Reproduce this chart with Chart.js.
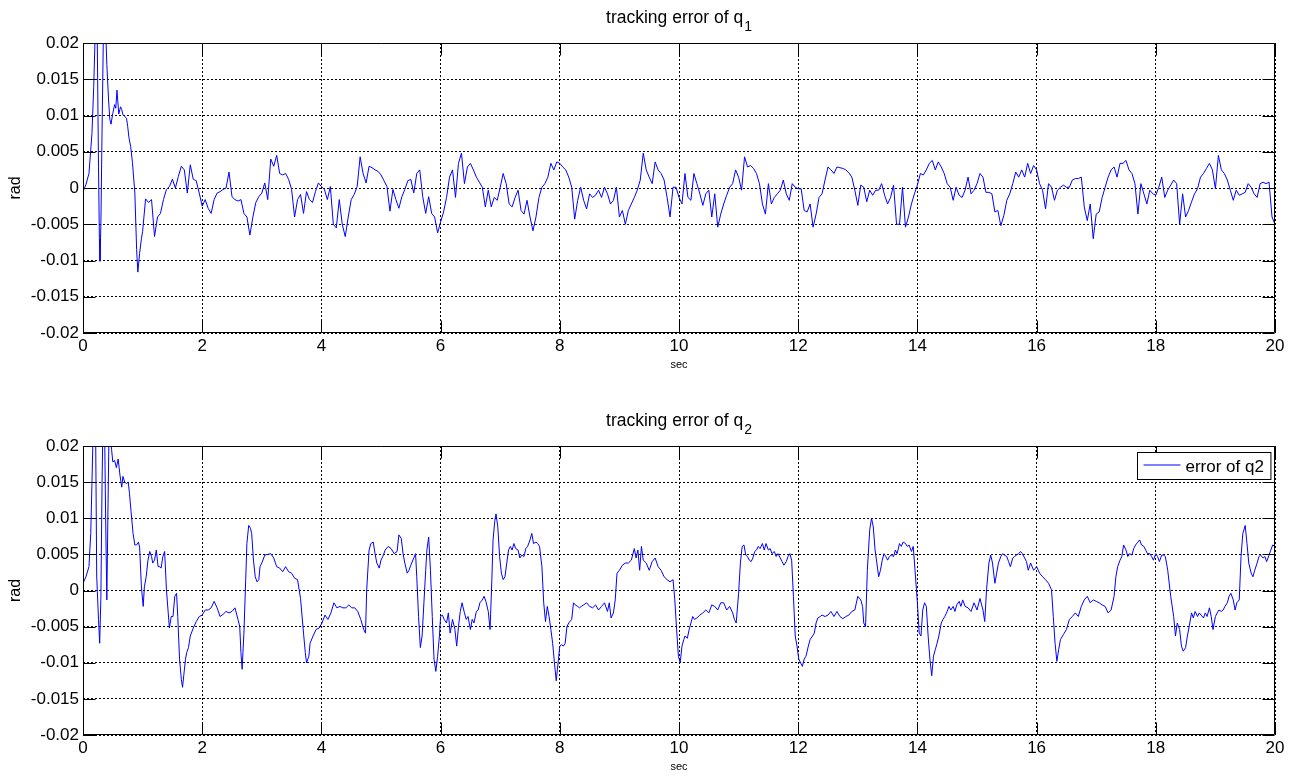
<!DOCTYPE html>
<html>
<head>
<meta charset="utf-8">
<title>tracking error</title>
<script src="https://cdn.jsdelivr.net/npm/chart.js@4.4.0/dist/chart.umd.min.js"></script>
<style>
  html, body { margin: 0; padding: 0; background: #fff; }
  #wrap { position: relative; width: 1301px; height: 776px; overflow: hidden; }
  canvas { position: absolute; left: 0; }
</style>
</head>
<body>
<div id="wrap">
  <canvas id="panelQ1" width="1301" height="390" style="top:0px"></canvas>
  <canvas id="panelQ2" width="1301" height="386" style="top:390px"></canvas>
</div>
<script>
// ---- axis ticks ----
const xTickValues = [0, 2, 4, 6, 8, 10, 12, 14, 16, 18, 20];
const xTickLabels = ['0', '2', '4', '6', '8', '10', '12', '14', '16', '18', '20'];
const yTickValues = [-0.02, -0.015, -0.01, -0.005, 0, 0.005, 0.01, 0.015, 0.02];
const yTickLabels = ['-0.02', '-0.015', '-0.01', '-0.005', '0', '0.005', '0.01', '0.015', '0.02'];

// ---- joint 1 error (rad) ----
// start-up transient, irregular sample times [t, e]
const q1Transient = [
  [0,-0.0005],[0.05,0.0005],[0.1,0.002],[0.15,0.0075],[0.18,0.014],[0.2,0.02],[0.22,0.026],
  [0.24,0.02],[0.26,0.003],[0.275,-0.007],[0.285,-0.0101],[0.3,-0.005],[0.32,0.008],[0.34,0.02],
  [0.36,0.026],[0.38,0.022],[0.4,0.017],[0.43,0.012],[0.45,0.0095],[0.47,0.0088],[0.5,0.0103],
  [0.53,0.0115],[0.55,0.011],[0.57,0.0135],[0.6,0.0102],[0.63,0.0112],[0.65,0.0108],[0.67,0.0101],
  [0.7,0.0099],[0.73,0.0096],[0.75,0.0085],[0.77,0.007],[0.8,0.0057],[0.83,0.0035],[0.87,-0.0007],
  [0.9,-0.0085],[0.92,-0.0116],[0.95,-0.009],[0.98,-0.007]
];
// logged every 0.05 s from t = 1.0 s (one row per second)
const q1LogStart = 1.0;
const q1LogStep = 0.05;
const q1Logged = [
  -0.006,-0.0015,-0.002,-0.0016,-0.0067,-0.004,-0.0035,-0.0016,-0.0002,0.0002,0.0012,0,0.0016,0.003,0.0025,-0.0007,0.0032,0.0012,0.001,-0.0007,
  -0.0025,-0.0016,-0.0028,-0.0035,-0.0016,-0.0007,-0.0005,-0.0002,0,0.0022,-0.0012,-0.0016,-0.0018,-0.0016,-0.0035,-0.004,-0.0065,-0.004,-0.002,-0.0012,
  -0.0007,0.0007,-0.0016,0.004,0.003,0.0045,0.002,0.0018,0.002,0.0012,-0.0002,-0.004,-0.0016,-0.0009,-0.0035,-0.0005,-0.0016,-0.002,-0.0005,0.0007,
  0.0002,-0.0002,-0.0016,0.0002,-0.005,-0.0055,-0.0016,-0.005,-0.0067,-0.004,-0.0016,-0.0009,0.0002,0.0043,0.002,0.0007,0.003,0.0028,0.0025,0.0023,
  0.0018,0.001,0.0002,-0.0032,-0.0002,-0.0016,-0.0028,-0.0012,-0.0002,0.001,0.0012,-0.0007,0.002,0.0025,-0.0012,-0.0035,-0.0012,-0.0035,-0.004,-0.0062,
  -0.0047,-0.0033,-0.0013,0.0015,0.0025,-0.0013,0.0034,0.0048,0.0006,0.0029,0.0034,0.0025,0.0015,0.0008,0.0001,-0.0026,-0.0003,-0.0026,-0.0013,-0.0017,
  0.0001,0.002,0.0006,-0.0022,-0.0026,-0.0013,-0.0003,-0.0031,-0.0036,-0.0017,-0.004,-0.0059,-0.004,-0.0013,0.0001,0.0006,0.0015,0.0034,0.0025,0.0036,
  0.0034,0.0029,0.0025,0.0015,0.0001,-0.0043,-0.0017,0.0001,-0.0017,-0.0029,-0.0008,-0.0013,-0.001,-0.0003,-0.0013,0.0001,-0.0008,-0.0022,-0.0017,0.0001,
  -0.004,-0.0031,-0.005,-0.0031,-0.0022,-0.0013,-0.0003,0.0011,0.0048,0.0025,0.0015,0.0006,0.0036,0.0025,0.002,0.0011,-0.0013,-0.004,0.0001,0.0001,
  -0.0013,-0.0022,0.002,-0.0013,-0.0017,0.002,0.0006,-0.0008,-0.0024,-0.0008,-0.0003,-0.004,-0.0008,-0.0054,-0.0036,-0.0022,-0.001,0.0001,0.0006,0.0025,
  0.0015,-0.0003,0.0043,0.0029,0.0031,0.0027,0.002,0.0006,-0.0022,-0.0036,0.0006,-0.0022,-0.0013,-0.0008,-0.0003,0.0011,-0.0008,-0.0017,0.0006,0.0001,
  -0.0001,-0.0001,-0.0031,-0.0033,-0.0022,-0.0054,-0.0036,-0.0013,-0.0008,0.0011,0.0029,0.0025,0.002,0.0029,0.0028,0.0027,0.0025,0.0021,0.0015,-0.0003,
  -0.0024,0.0004,0.0001,-0.0019,-0.0003,-0.001,-0.0003,-0.0003,0.0006,-0.001,-0.0022,-0.0013,0.0004,-0.005,-0.005,0.0001,-0.0054,-0.004,-0.0022,-0.0008,
  0.0004,0.002,0.0018,0.0025,0.0034,0.0038,0.0025,0.0036,0.0029,0.002,0.0006,0.0001,-0.0017,0.0001,-0.001,-0.0013,-0.0003,0.0015,-0.0008,-0.0003,
  0.0006,0.002,0.0015,-0.0006,-0.0006,-0.0008,-0.0033,-0.0031,-0.0052,-0.0038,-0.0017,-0.0008,0.0006,0.0022,0.0015,0.0025,0.0015,0.0034,0.002,0.0031,
  0.0025,0.0006,-0.0003,-0.0029,0.0006,0.0001,-0.0017,-0.0003,0.0001,0.0004,0.0001,0.0001,0.0011,0.0013,0.0013,0.0015,-0.0026,-0.0045,-0.0022,-0.007,
  -0.0036,-0.0033,-0.0013,0.0001,0.0015,0.0025,0.0029,0.0015,0.0034,0.0034,0.0038,0.0025,0.002,0.0006,-0.0036,0.0006,-0.0008,-0.0022,-0.0003,-0.0008,
  -0.001,0.0001,0.0015,-0.0013,-0.0003,0.0004,0.0011,0.0006,-0.005,-0.0008,-0.004,-0.0031,-0.0019,-0.0008,-0.0001,0.0015,0.002,0.0027,0.0034,0.0025,
  -0.0001,0.0045,0.0025,0.002,0.0011,-0.0003,-0.0017,-0.0003,-0.001,-0.0008,-0.0006,0.0006,0.0001,-0.0008,-0.0013,0.0006,0.0008,0.0006,0.0008,-0.004,
  -0.005
];

// ---- joint 2 error (rad), [t, e] ----
const q2Samples = [
  [0,0.001],[0.05,0.0019],[0.1,0.0033],[0.13,0.0079],[0.15,0.0148],[0.17,0.022],[0.19,0.026],[0.21,0.024],
  [0.23,0.002],[0.26,-0.004],[0.28,-0.0073],[0.3,-0.001],[0.32,0.015],[0.34,0.026],[0.36,0.024],[0.38,0.01],
  [0.4,-0.0013],[0.42,0.012],[0.44,0.024],[0.46,0.021],[0.48,0.0195],[0.5,0.0178],[0.53,0.018],[0.56,0.017],
  [0.59,0.0182],[0.62,0.016],[0.65,0.0143],[0.67,0.0158],[0.7,0.015],[0.73,0.0148],[0.76,0.015],[0.78,0.0134],
  [0.81,0.0106],[0.84,0.0079],[0.87,0.0063],[0.9,0.0063],[0.93,0.0067],[0.95,0.006],[0.98,0.0005],[1.01,-0.0022],
  [1.03,0.0005],[1.06,0.0019],[1.09,0.0042],[1.12,0.0054],[1.15,0.0047],[1.17,0.0038],[1.2,0.0042],[1.23,0.0056],
  [1.26,0.0033],[1.29,0.0033],[1.31,0.0031],[1.34,0.0047],[1.37,0.0054],[1.4,0.0001],[1.43,-0.0031],[1.45,-0.0052],
  [1.48,-0.0036],[1.51,-0.0036],[1.54,-0.0008],[1.57,-0.0004],[1.59,-0.0036],[1.62,-0.0095],[1.65,-0.0123],[1.67,-0.0134],
  [1.69,-0.0118],[1.72,-0.0095],[1.74,-0.0086],[1.77,-0.0079],[1.8,-0.0063],[1.85,-0.0052],[1.9,-0.0043],[1.95,-0.0036],
  [2.0,-0.0034],[2.05,-0.0027],[2.1,-0.0027],[2.15,-0.0024],[2.2,-0.0015],[2.25,-0.0024],[2.3,-0.0036],[2.35,-0.0033],
  [2.4,-0.0029],[2.45,-0.0031],[2.5,-0.0029],[2.55,-0.0024],[2.6,-0.004],[2.63,-0.005],[2.65,-0.0086],[2.67,-0.0109],
  [2.7,-0.0059],[2.73,0.0015],[2.75,0.0065],[2.78,0.009],[2.81,0.0086],[2.83,0.0079],[2.86,0.0042],[2.89,0.0019],
  [2.92,0.0012],[2.95,0.0015],[2.97,0.0033],[3.0,0.0038],[3.05,0.0049],[3.1,0.005],[3.15,0.0051],[3.2,0.0045],
  [3.25,0.0033],[3.3,0.0031],[3.35,0.0026],[3.4,0.0033],[3.45,0.0026],[3.5,0.0024],[3.55,0.0017],[3.6,0.0015],
  [3.65,-0.0011],[3.7,-0.0059],[3.73,-0.0086],[3.75,-0.01],[3.79,-0.0091],[3.81,-0.0073],[3.86,-0.0063],[3.91,-0.0054],
  [3.96,-0.0052],[4.01,-0.0045],[4.06,-0.0034],[4.11,-0.004],[4.16,-0.0031],[4.21,-0.0017],[4.26,-0.0024],[4.31,-0.0022],
  [4.36,-0.0024],[4.41,-0.0024],[4.46,-0.002],[4.51,-0.0024],[4.56,-0.0024],[4.61,-0.0029],[4.66,-0.004],[4.71,-0.0054],
  [4.74,-0.0059],[4.76,0.0001],[4.8,0.0056],[4.83,0.0065],[4.87,0.0067],[4.9,0.0051],[4.93,0.0038],[4.97,0.0031],
  [5.0,0.0042],[5.03,0.0047],[5.07,0.0056],[5.12,0.0061],[5.17,0.0058],[5.22,0.0051],[5.27,0.0054],[5.3,0.0077],
  [5.34,0.0072],[5.37,0.0051],[5.4,0.0038],[5.44,0.0024],[5.47,0.0028],[5.5,0.0035],[5.55,0.0045],[5.58,0.0051],
  [5.6,0.0019],[5.63,-0.0036],[5.66,-0.0079],[5.69,-0.0063],[5.72,-0.0017],[5.75,0.0028],[5.77,0.0056],[5.8,0.0074],
  [5.83,0.0028],[5.86,-0.0036],[5.89,-0.0095],[5.92,-0.0112],[5.95,-0.0091],[5.98,-0.0063],[6.0,-0.0036],[6.03,-0.0034],
  [6.06,-0.004],[6.1,-0.0045],[6.13,-0.0031],[6.16,-0.0059],[6.2,-0.004],[6.24,-0.0054],[6.27,-0.0077],[6.3,-0.005],
  [6.33,-0.0029],[6.36,-0.0017],[6.4,-0.0031],[6.43,-0.004],[6.46,-0.0036],[6.5,-0.0054],[6.53,-0.004],[6.56,-0.0045],
  [6.6,-0.0029],[6.63,-0.0027],[6.66,-0.0017],[6.7,-0.0013],[6.73,-0.0008],[6.76,-0.0015],[6.8,-0.0029],[6.83,-0.0054],
  [6.86,0.0015],[6.88,0.007],[6.91,0.0097],[6.93,0.0106],[6.96,0.0088],[6.99,0.0047],[7.02,0.0024],[7.05,0.0015],
  [7.08,0.0019],[7.11,0.0038],[7.14,0.0056],[7.17,0.0061],[7.2,0.0056],[7.23,0.0065],[7.26,0.0058],[7.3,0.0056],
  [7.33,0.0045],[7.36,0.0049],[7.4,0.0047],[7.43,0.0058],[7.46,0.0061],[7.5,0.007],[7.53,0.0079],[7.56,0.0065],
  [7.6,0.0067],[7.63,0.0065],[7.66,0.0061],[7.7,0.0033],[7.73,-0.0017],[7.76,-0.0043],[7.79,-0.0022],[7.82,-0.0036],
  [7.85,-0.0054],[7.88,-0.0073],[7.91,-0.01],[7.94,-0.0125],[7.96,-0.0109],[8.0,-0.0077],[8.03,-0.0075],[8.06,-0.0077],
  [8.09,-0.0073],[8.12,-0.005],[8.15,-0.0045],[8.2,-0.004],[8.23,-0.0017],[8.26,-0.002],[8.3,-0.0022],[8.33,-0.0024],
  [8.36,-0.0022],[8.4,-0.002],[8.45,-0.0017],[8.5,-0.0022],[8.55,-0.0024],[8.6,-0.002],[8.65,-0.0027],[8.7,-0.0022],
  [8.75,-0.0017],[8.8,-0.0029],[8.83,-0.0017],[8.86,-0.0038],[8.9,-0.0031],[8.93,-0.0013],[8.96,0.0024],[9.0,0.0028],
  [9.05,0.0035],[9.1,0.0038],[9.15,0.0038],[9.2,0.0042],[9.25,0.0058],[9.28,0.0045],[9.31,0.0056],[9.34,0.0028],
  [9.37,0.0061],[9.4,0.0042],[9.45,0.0038],[9.5,0.0028],[9.55,0.004],[9.6,0.0045],[9.65,0.0033],[9.7,0.0028],
  [9.75,0.0019],[9.8,0.0015],[9.85,0.0012],[9.9,0.0015],[9.93,-0.0013],[9.96,-0.0054],[9.99,-0.0091],[10.02,-0.01],
  [10.05,-0.0077],[10.08,-0.0068],[10.1,-0.0063],[10.14,-0.0066],[10.17,-0.0054],[10.2,-0.0045],[10.23,-0.0036],[10.26,-0.004],
  [10.3,-0.0038],[10.35,-0.0034],[10.4,-0.0031],[10.45,-0.0027],[10.5,-0.0031],[10.55,-0.002],[10.6,-0.0022],[10.65,-0.0027],
  [10.7,-0.0017],[10.75,-0.0017],[10.8,-0.0027],[10.85,-0.0022],[10.9,-0.0031],[10.93,-0.004],[10.96,-0.0045],[11.0,-0.0004],
  [11.03,0.0038],[11.06,0.0061],[11.09,0.0063],[11.12,0.0049],[11.15,0.0047],[11.18,0.0042],[11.21,0.004],[11.24,0.0045],
  [11.27,0.0054],[11.3,0.0056],[11.33,0.0061],[11.36,0.0058],[11.4,0.0065],[11.43,0.0056],[11.46,0.0065],[11.5,0.0056],
  [11.53,0.0058],[11.56,0.0051],[11.6,0.0054],[11.63,0.0047],[11.66,0.0051],[11.7,0.0045],[11.73,0.004],[11.76,0.0035],
  [11.8,0.004],[11.83,0.0047],[11.86,0.0051],[11.89,0.0042],[11.92,-0.0008],[11.95,-0.0063],[11.98,-0.0077],[12.01,-0.0095],
  [12.04,-0.01],[12.07,-0.0105],[12.1,-0.0095],[12.13,-0.0091],[12.17,-0.0077],[12.2,-0.0068],[12.24,-0.0063],[12.27,-0.0059],
  [12.3,-0.0045],[12.33,-0.0038],[12.37,-0.0036],[12.4,-0.0034],[12.45,-0.0036],[12.5,-0.0034],[12.55,-0.0029],[12.6,-0.0036],
  [12.65,-0.0029],[12.7,-0.0036],[12.75,-0.0039],[12.8,-0.0036],[12.85,-0.0034],[12.9,-0.0029],[12.95,-0.0027],[13.0,-0.0008],
  [13.05,-0.0013],[13.08,-0.0022],[13.1,-0.0045],[13.13,-0.005],[13.16,0.0028],[13.2,0.0084],[13.23,0.01],[13.26,0.0088],
  [13.29,0.0056],[13.32,0.0038],[13.35,0.0019],[13.38,0.0028],[13.41,0.0042],[13.44,0.0051],[13.47,0.0047],[13.5,0.0042],
  [13.53,0.0047],[13.56,0.0049],[13.6,0.0047],[13.63,0.0056],[13.66,0.0051],[13.7,0.0065],[13.73,0.0061],[13.76,0.0067],
  [13.8,0.0065],[13.83,0.0061],[13.86,0.0063],[13.9,0.0054],[13.93,0.0061],[13.96,0.0028],[14.0,-0.0017],[14.03,-0.0059],
  [14.06,-0.0063],[14.09,-0.0027],[14.12,-0.0017],[14.15,-0.0022],[14.18,-0.0063],[14.21,-0.0095],[14.24,-0.0118],[14.27,-0.0091],
  [14.3,-0.0082],[14.33,-0.0073],[14.36,-0.0063],[14.4,-0.0045],[14.43,-0.004],[14.46,-0.0036],[14.5,-0.0029],[14.53,-0.0022],
  [14.56,-0.0027],[14.6,-0.0022],[14.63,-0.0029],[14.66,-0.002],[14.7,-0.0015],[14.73,-0.0022],[14.76,-0.0013],[14.8,-0.0022],
  [14.85,-0.0024],[14.9,-0.0029],[14.95,-0.0017],[15.0,-0.0027],[15.05,-0.0011],[15.1,-0.0027],[15.13,-0.0043],[15.16,0.0001],
  [15.2,0.0038],[15.23,0.0049],[15.26,0.0038],[15.3,0.001],[15.33,0.0024],[15.36,0.0038],[15.4,0.0047],[15.43,0.0051],
  [15.46,0.0049],[15.5,0.0047],[15.53,0.004],[15.56,0.0033],[15.6,0.0045],[15.63,0.0047],[15.66,0.0049],[15.7,0.0051],
  [15.73,0.0054],[15.76,0.0051],[15.8,0.0045],[15.83,0.004],[15.86,0.0028],[15.9,0.0038],[15.95,0.0028],[16.0,0.0033],
  [16.05,0.0024],[16.1,0.0019],[16.15,0.0015],[16.2,0.001],[16.25,0.0001],[16.28,-0.0036],[16.31,-0.0073],[16.34,-0.0098],
  [16.37,-0.0082],[16.4,-0.0068],[16.45,-0.0061],[16.5,-0.0054],[16.55,-0.004],[16.6,-0.0036],[16.65,-0.0031],[16.7,-0.0036],
  [16.75,-0.0022],[16.8,-0.0013],[16.85,-0.0008],[16.9,-0.0017],[16.95,-0.0013],[17.0,-0.0015],[17.05,-0.0017],[17.1,-0.002],
  [17.15,-0.0022],[17.2,-0.0031],[17.25,-0.0027],[17.3,-0.0008],[17.33,0.0019],[17.36,0.0033],[17.4,0.0042],[17.43,0.0047],
  [17.46,0.0063],[17.5,0.0056],[17.53,0.0047],[17.56,0.0051],[17.6,0.0049],[17.63,0.0058],[17.66,0.0063],[17.7,0.0067],
  [17.73,0.007],[17.76,0.0063],[17.8,0.0061],[17.83,0.0056],[17.86,0.0051],[17.9,0.0051],[17.93,0.0047],[17.96,0.0042],
  [18.0,0.0051],[18.03,0.0047],[18.06,0.004],[18.1,0.0049],[18.13,0.0049],[18.16,0.0047],[18.2,0.0028],[18.25,-0.0008],
  [18.3,-0.0036],[18.33,-0.0063],[18.36,-0.0045],[18.4,-0.0054],[18.43,-0.0077],[18.46,-0.0084],[18.5,-0.0079],[18.53,-0.0063],
  [18.56,-0.005],[18.6,-0.0031],[18.63,-0.0038],[18.66,-0.0029],[18.7,-0.0036],[18.73,-0.0031],[18.76,-0.0034],[18.8,-0.0038],
  [18.83,-0.0031],[18.86,-0.0036],[18.9,-0.0024],[18.93,-0.0036],[18.96,-0.0054],[19.0,-0.0036],[19.03,-0.0031],[19.06,-0.0027],
  [19.1,-0.0029],[19.13,-0.0027],[19.16,-0.0022],[19.2,-0.0017],[19.23,-0.0008],[19.26,-0.0004],[19.3,-0.0013],[19.33,-0.0027],
  [19.36,-0.0017],[19.4,-0.0013],[19.43,0.0047],[19.46,0.0079],[19.5,0.009],[19.53,0.0065],[19.56,0.0038],[19.6,0.0024],
  [19.63,0.0019],[19.66,0.0028],[19.7,0.0038],[19.73,0.0047],[19.76,0.0049],[19.8,0.0045],[19.83,0.0047],[19.86,0.004],
  [19.9,0.0049],[19.93,0.0056],[19.96,0.0063],[20.0,0.0061]
];

// ---- assemble point lists ----
const q1Points = q1Transient.map(([t, e]) => ({ x: t, y: e }))
  .concat(q1Logged.map((e, i) => ({ x: +(q1LogStart + i * q1LogStep).toFixed(2), y: e })));
const q2Points = q2Samples.map(([t, e]) => ({ x: t, y: e }));

const FONT = '"Liberation Sans", Arial, Helvetica, sans-serif';
const LINE_BLUE = '#0000ff';
const TICK_LEN = 12;

Chart.defaults.font.family = FONT;
Chart.defaults.color = '#000';

// MATLAB-like axes decoration: box, inward ticks, title with subscript, labels, legend
function axesDecor(cfg) {
  return {
    id: 'axesDecor',
    afterDatasetsDraw(chart) {
      const { ctx, chartArea: a } = chart;
      const xs = chart.scales.x, ys = chart.scales.y;
      ctx.save();
      ctx.setLineDash([]);
      ctx.strokeStyle = '#000';
      ctx.lineWidth = 1;
      const L = a.left + 0.5, R = a.right - 0.5, T = a.top + 0.5, B = a.bottom - 0.5;
      ctx.beginPath();
      ctx.rect(L, T, R - L, B - T);
      xTickValues.forEach(v => {
        const px = Math.round(xs.getPixelForValue(v)) + 0.5;
        ctx.moveTo(px, B); ctx.lineTo(px, B - TICK_LEN);
        ctx.moveTo(px, T); ctx.lineTo(px, T + TICK_LEN);
      });
      yTickValues.forEach(v => {
        const py = Math.round(ys.getPixelForValue(v)) + 0.5;
        ctx.moveTo(L, py); ctx.lineTo(L + TICK_LEN, py);
        ctx.moveTo(R, py); ctx.lineTo(R - TICK_LEN, py);
      });
      ctx.stroke();

      // title with subscript
      const cx = (a.left + a.right) / 2;
      ctx.fillStyle = '#000';
      ctx.textBaseline = 'alphabetic';
      ctx.font = '17.5px ' + FONT;
      const wMain = ctx.measureText(cfg.title).width;
      ctx.font = '14px ' + FONT;
      const wSub = ctx.measureText(cfg.titleSub).width;
      const x0 = cx - (wMain + 1 + wSub) / 2;
      const base = a.top - 20;
      ctx.textAlign = 'left';
      ctx.font = '17.5px ' + FONT;
      ctx.fillText(cfg.title, x0, base);
      ctx.font = '14px ' + FONT;
      ctx.fillText(cfg.titleSub, x0 + wMain + 1, base + 8);

      // x label
      ctx.font = '11px ' + FONT;
      ctx.textAlign = 'center';
      ctx.fillText(cfg.xLabel, cx, a.bottom + 35);

      // y label
      ctx.save();
      ctx.translate(20, (a.top + a.bottom) / 2);
      ctx.rotate(-Math.PI / 2);
      ctx.font = '16px ' + FONT;
      ctx.textAlign = 'center';
      ctx.fillText(cfg.yLabel, 0, 0);
      ctx.restore();

      // legend box
      if (cfg.legend) {
        const label = chart.data.datasets[0].label;
        ctx.font = '17px ' + FONT;
        const tw = ctx.measureText(label).width;
        const padL = 6, lineLen = 37, gap = 5, padR = 7, h = 27;
        const w = padL + lineLen + gap + tw + padR;
        const bx = Math.round(a.right - 5 - w) + 0.5;
        const by = Math.round(a.top + 6) + 0.5;
        ctx.fillStyle = '#fff';
        ctx.fillRect(bx, by, w, h);
        ctx.strokeStyle = '#000';
        ctx.strokeRect(bx, by, w, h);
        ctx.strokeStyle = LINE_BLUE;
        ctx.beginPath();
        ctx.moveTo(bx + padL, by + 12.5);
        ctx.lineTo(bx + padL + lineLen, by + 12.5);
        ctx.stroke();
        ctx.fillStyle = '#000';
        ctx.textAlign = 'left';
        ctx.fillText(label, bx + padL + lineLen + gap, by + 19.5);
      }
      ctx.restore();
    }
  };
}

function makePanel(canvasId, points, cfg) {
  return new Chart(document.getElementById(canvasId), {
    type: 'line',
    data: {
      datasets: [{
        label: cfg.seriesLabel,
        data: points,
        borderColor: LINE_BLUE,
        borderWidth: 1,
        pointRadius: 0,
        tension: 0,
        fill: false
      }]
    },
    options: {
      responsive: false,
      animation: false,
      devicePixelRatio: 1,
      events: [],
      layout: { padding: { top: cfg.padTop, right: 26, bottom: 0, left: 0 } },
      plugins: { legend: { display: false }, tooltip: { enabled: false }, title: { display: false } },
      scales: {
        x: {
          type: 'linear',
          min: 0, max: 20,
          afterBuildTicks: s => { s.ticks = xTickValues.map(v => ({ value: v })); },
          afterFit: s => { s.height = cfg.xAxisHeight; },
          ticks: {
            autoSkip: false, maxRotation: 0, padding: 3,
            font: { size: 17 }, color: '#000',
            callback: (v, i) => xTickLabels[i]
          },
          grid: { color: '#000', lineWidth: 1, drawTicks: false },
          border: { display: false, dash: [2, 2] }
        },
        y: {
          type: 'linear',
          min: -0.02, max: 0.02,
          afterBuildTicks: s => { s.ticks = yTickValues.map(v => ({ value: v })); },
          afterFit: s => { s.width = 83; },
          ticks: {
            padding: 4,
            font: { size: 17 }, color: '#000',
            callback: (v, i) => yTickLabels[i]
          },
          grid: { color: '#000', lineWidth: 1, drawTicks: false },
          border: { display: false, dash: [2, 2] }
        }
      }
    },
    plugins: [axesDecor(cfg)]
  });
}

makePanel('panelQ1', q1Points, {
  seriesLabel: 'error of q1', title: 'tracking error of q', titleSub: '1',
  xLabel: 'sec', yLabel: 'rad', padTop: 43, xAxisHeight: 57, legend: false
});
makePanel('panelQ2', q2Points, {
  seriesLabel: 'error of q2', title: 'tracking error of q', titleSub: '2',
  xLabel: 'sec', yLabel: 'rad', padTop: 56, xAxisHeight: 41, legend: true
});
</script>
</body>
</html>
